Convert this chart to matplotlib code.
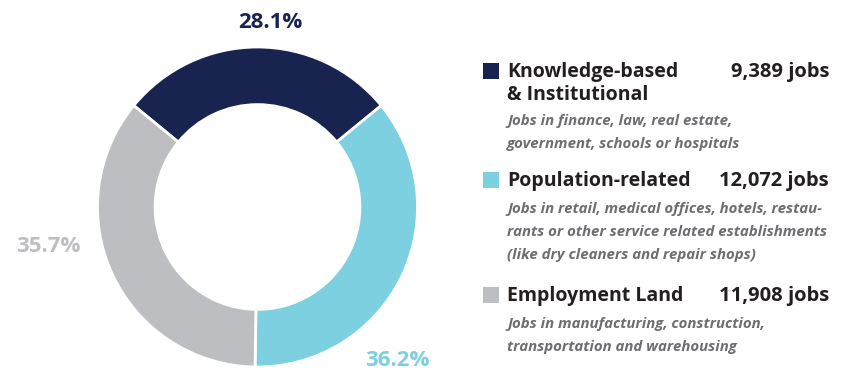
import matplotlib
matplotlib.use("Agg")
import matplotlib.pyplot as plt
from matplotlib.patches import Rectangle

# Job counts by employment category
categories = ["Knowledge-based\n& Institutional", "Population-related", "Employment Land"]
jobs = [9389, 12072, 11908]
pct_labels = ["28.1%", "36.2%", "35.7%"]
job_labels = ["9,389 jobs", "12,072 jobs", "11,908 jobs"]
descriptions = [
    "Jobs in finance, law, real estate,\ngovernment, schools or hospitals",
    "Jobs in retail, medical offices, hotels, restau-\nrants or other service related establishments\n(like dry cleaners and repair shops)",
    "Jobs in manufacturing, construction,\ntransportation and warehousing",
]
colors = ["#19234f", "#7cd0e0", "#bdbec1"]

W, H = 863, 370
FONT = "Open Sans"
TITLE_C = "#231f20"
DESC_C = "#6d6e71"

fig = plt.figure(figsize=(W / 100, H / 100), dpi=100)
ax = fig.add_axes([0, 0, 1, 1])

# Donut, first slice centred at the top, running clockwise
total = sum(jobs)
start = 90 + 180 * jobs[0] / total
cx, cy, R = 257.5, H - 207, 160
ax.pie(jobs, colors=colors, startangle=start, counterclock=False,
       center=(cx, cy), radius=R,
       wedgeprops=dict(width=R * 0.36, edgecolor="white", linewidth=2))
ax.set_xlim(0, W)
ax.set_ylim(0, H)
ax.set_aspect("auto")
ax.axis("off")


def T(x, y, s, **kw):
    ax.text(x, H - y, s, family=FONT, **kw)


# Percentage labels around the ring
pct_pos = [(270, 23), (397, 360), (48, 246.5)]
for (x, y), s, c in zip(pct_pos, pct_labels, colors):
    T(x, y, s, color=c, fontsize=16, fontweight="bold", ha="center", va="center")

# Legend entries
title_base = [77, 186, 301]
sq_top = [63, 172, 287]
desc_base = [125, 213, 328]
line_h = 23
for i in range(3):
    ax.add_patch(Rectangle((483, H - sq_top[i] - 16), 16, 16,
                           facecolor=colors[i], edgecolor="none"))
    for j, line in enumerate(categories[i].split("\n")):
        T(507, title_base[i] + j * line_h, line, color=TITLE_C, fontsize=14,
          fontweight="bold", va="baseline")
    T(829, title_base[i], job_labels[i], color=TITLE_C, fontsize=14.5,
      fontweight="bold", ha="right", va="baseline")
    for j, line in enumerate(descriptions[i].split("\n")):
        T(507, desc_base[i] + j * line_h, line, color=DESC_C, fontsize=10.8,
          fontweight="bold", style="italic", va="baseline")

fig.savefig("out.png", dpi=100)
